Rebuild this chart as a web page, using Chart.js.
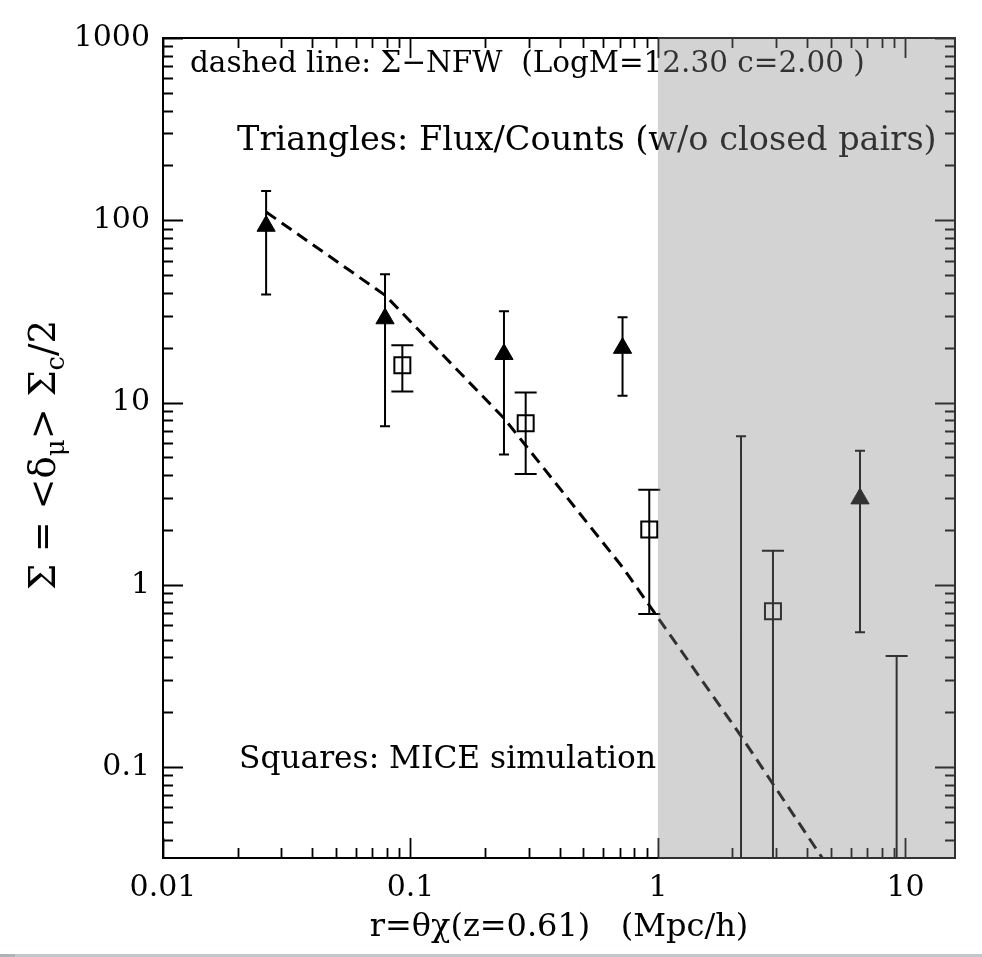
<!DOCTYPE html>
<html>
<head>
<meta charset="utf-8">
<script src="https://cdn.jsdelivr.net/npm/chart.js@4.4.0/dist/chart.umd.min.js"></script>
<style>
html,body{margin:0;padding:0;background:#fff;overflow:hidden;}
#wrap{position:relative;width:982px;height:957px;}
canvas{display:block;}
#strip{position:absolute;left:0;top:954px;width:982px;height:3px;background:#c3c7cb;}
#strip::before{content:"";position:absolute;left:0;top:0;width:15px;height:3px;background:#aeb2b6;}
</style>
</head>
<body>
<div id="wrap"><canvas id="c" width="982" height="957"></canvas><div id="strip"></div></div>
<script>
// ---------------- data ----------------
// Triangles: Flux/Counts (w/o closed pairs); null = central value below plot range
const triX  = [0.0261, 0.0789, 0.2386, 0.719, 2.165, 6.55];
const triY  = [93.0, 28.9, 18.4, 19.9, null, 2.97];
const triHi = [144.8, 50.6, 31.7, 29.4, 6.53, 5.43];
const triLo = [39.1, 7.41, 5.19, 10.9, null, 0.549];   // null = extends below axis

// Squares: MICE simulation
const sqX  = [0.0927, 0.292, 0.922, 2.914, 9.21];
const sqY  = [16.0, 7.70, 2.01, 0.716, null];
const sqHi = [20.6, 11.35, 3.32, 1.535, 0.407];
const sqLo = [11.5, 4.06, 0.692, null, null];

// dashed line: Sigma-NFW model
const nfwX = [0.0261, 0.0789, 0.2386, 0.719, 2.165, 6.55];
const nfwY = [111, 38.8, 8.20, 1.249, 0.148, 0.0155];

// axes
const xRange = [0.01, 15.85];
const yRange = [0.0317, 1000];
const xTickValues = [0.01, 0.1, 1, 10];
const xTickLabels = ['0.01', '0.1', '1', '10'];
const yTickValues = [0.1, 1, 10, 100, 1000];
const yTickLabels = ['0.1', '1', '10', '100', '1000'];
const shadeFrom = 1;

const xTitle = 'r=\u03B8\u03C7(z=0.61)   (Mpc/h)';
const notes = [
  {text: 'dashed line: \u03A3\u2212NFW  (LogM=12.30 c=2.00 )', x: 190, y: 72, w: 675, maxSize: 31},
  {text: 'Triangles: Flux/Counts (w/o closed pairs)', x: 237, y: 150, w: 700, maxSize: 40},
  {text: 'Squares: MICE simulation', x: 239, y: 768, w: 417, maxSize: 40}
];

const FONT = "'DejaVu Serif', serif";

function logTicks(min, max) {
  const out = [];
  for (let e = Math.floor(Math.log10(min)); e <= Math.ceil(Math.log10(max)); e++) {
    for (let m = 1; m <= 9; m++) {
      const v = +(m * Math.pow(10, e)).toPrecision(6);
      if (v >= min * 0.9999 && v <= max * 1.0001) out.push({value: v, major: m === 1});
    }
  }
  return out;
}
function labelFor(v, vals, labels) {
  for (let i = 0; i < vals.length; i++) if (Math.abs(v / vals[i] - 1) < 1e-6) return labels[i];
  return '';
}

const extras = {
  id: 'extras',
  beforeDatasetsDraw(chart) {
    const {ctx, chartArea: a, scales: {x, y}} = chart;
    ctx.save();
    // annotations
    ctx.fillStyle = '#000';
    ctx.textBaseline = 'alphabetic';
    ctx.textAlign = 'left';
    notes.forEach(n => {
      ctx.font = '31px ' + FONT;
      const w = ctx.measureText(n.text).width;
      const s = Math.min(n.maxSize, 31 * n.w / w);
      ctx.font = s.toFixed(2) + 'px ' + FONT;
      ctx.fillText(n.text, n.x, n.y);
    });
    // frame
    ctx.strokeStyle = '#000';
    ctx.lineWidth = 2;
    ctx.strokeRect(a.left, a.top, a.right - a.left, a.bottom - a.top);
    // inward ticks on all sides
    ctx.lineWidth = 1.8;
    ctx.beginPath();
    x.ticks.forEach(t => {
      const px = Math.round(x.getPixelForValue(t.value)) + 0.5;
      const len = t.major ? 20 : 10;
      ctx.moveTo(px, a.bottom); ctx.lineTo(px, a.bottom - len);
      ctx.moveTo(px, a.top); ctx.lineTo(px, a.top + len);
    });
    y.ticks.forEach(t => {
      const py = Math.round(y.getPixelForValue(t.value)) + 0.5;
      const len = t.major ? 20 : 10;
      ctx.moveTo(a.left, py); ctx.lineTo(a.left + len, py);
      ctx.moveTo(a.right, py); ctx.lineTo(a.right - len, py);
    });
    ctx.stroke();
    // error bars
    ctx.beginPath();
    ctx.rect(a.left, a.top, a.right - a.left, a.bottom - a.top);
    ctx.clip();
    ctx.lineWidth = 2;
    function bars(X, HI, LO, cap) {
      ctx.beginPath();
      for (let i = 0; i < X.length; i++) {
        const px = x.getPixelForValue(X[i]);
        const yt = y.getPixelForValue(HI[i]);
        const yb = LO[i] == null ? a.bottom + 5 : y.getPixelForValue(LO[i]);
        ctx.moveTo(px, yt); ctx.lineTo(px, yb);
        ctx.moveTo(px - cap, yt); ctx.lineTo(px + cap, yt);
        if (LO[i] != null) { ctx.moveTo(px - cap, yb); ctx.lineTo(px + cap, yb); }
      }
      ctx.stroke();
    }
    bars(triX, triHi, triLo, 5);
    bars(sqX, sqHi, sqLo, 11);
    ctx.restore();
  },
  afterDatasetsDraw(chart) {
    const {ctx, chartArea: a, scales: {x}} = chart;
    ctx.save();
    const px = x.getPixelForValue(shadeFrom);
    ctx.fillStyle = 'rgba(136,136,136,0.37)';
    ctx.fillRect(px, a.top - 1, a.right + 1 - px, a.bottom - a.top + 2);
    ctx.restore();
  },
  afterDraw(chart) {
    const {ctx} = chart;
    ctx.save();
    ctx.translate(55, 455);
    ctx.rotate(-Math.PI / 2);
    ctx.fillStyle = '#000';
    ctx.textBaseline = 'alphabetic';
    const parts = [
      {t: '\u03A3 = <\u03B4', sub: false},
      {t: '\u03BC', sub: true},
      {t: '> \u03A3', sub: false},
      {t: 'c', sub: true},
      {t: '/2', sub: false}
    ];
    // fit the title length to the reference extent
    let base = 29;
    let total = 0;
    parts.forEach(p => { ctx.font = (p.sub ? base * 0.7 : base) + 'px ' + FONT; total += ctx.measureText(p.t).width; });
    const sz = Math.min(37, base * 335 / total);
    const main = sz.toFixed(2) + 'px ' + FONT, small = (sz * 0.7).toFixed(2) + 'px ' + FONT;
    total = 0;
    parts.forEach(p => { ctx.font = p.sub ? small : main; p.w = ctx.measureText(p.t).width; total += p.w; });
    let cx = -total / 2;
    parts.forEach(p => {
      ctx.font = p.sub ? small : main;
      ctx.fillText(p.t, cx, p.sub ? sz * 0.25 : 0);
      cx += p.w;
    });
    ctx.restore();
  }
};

new Chart(document.getElementById('c'), {
  type: 'scatter',
  data: {
    datasets: [
      {
        type: 'line', label: 'NFW',
        data: nfwX.map((v, i) => ({x: v, y: nfwY[i]})),
        borderColor: '#000', borderWidth: 3, borderDash: [12, 7],
        pointRadius: 0, fill: false, tension: 0
      },
      {
        label: 'Triangles',
        data: triX.map((v, i) => ({x: v, y: triY[i]})),
        pointStyle: 'triangle', pointRadius: 10.5,
        backgroundColor: '#000', borderColor: '#000', borderWidth: 1
      },
      {
        label: 'Squares',
        data: sqX.map((v, i) => ({x: v, y: sqY[i]})),
        pointStyle: 'rect', pointRadius: 11.3,
        backgroundColor: 'rgba(0,0,0,0)', borderColor: '#000', borderWidth: 2
      }
    ]
  },
  options: {
    responsive: false, animation: false, devicePixelRatio: 1,
    layout: {padding: {top: 38, right: 27, left: 0, bottom: 0}},
    plugins: {legend: {display: false}, tooltip: {enabled: false}},
    scales: {
      x: {
        type: 'logarithmic', position: 'bottom', min: xRange[0], max: xRange[1],
        afterBuildTicks: s => { s.ticks = logTicks(xRange[0], xRange[1]); },
        afterFit: s => { s.height = 99; },
        grid: {display: false, drawTicks: false}, border: {display: false},
        ticks: {
          autoSkip: false, maxRotation: 0, minRotation: 0, padding: 12,
          color: '#000', font: {family: FONT, size: 30},
          callback: v => labelFor(v, xTickValues, xTickLabels)
        },
        title: {display: true, text: xTitle, color: '#000', font: {family: FONT, size: 32}, padding: {top: 0, bottom: 10}}
      },
      y: {
        type: 'logarithmic', position: 'left', min: yRange[0], max: yRange[1],
        afterBuildTicks: s => { s.ticks = logTicks(yRange[0], yRange[1]); },
        afterFit: s => { s.width = 163; },
        grid: {display: false, drawTicks: false}, border: {display: false},
        ticks: {
          autoSkip: false, padding: 13,
          color: '#000', font: {family: FONT, size: 30},
          callback: v => labelFor(v, yTickValues, yTickLabels)
        }
      }
    }
  },
  plugins: [extras]
});
</script>
</body>
</html>
